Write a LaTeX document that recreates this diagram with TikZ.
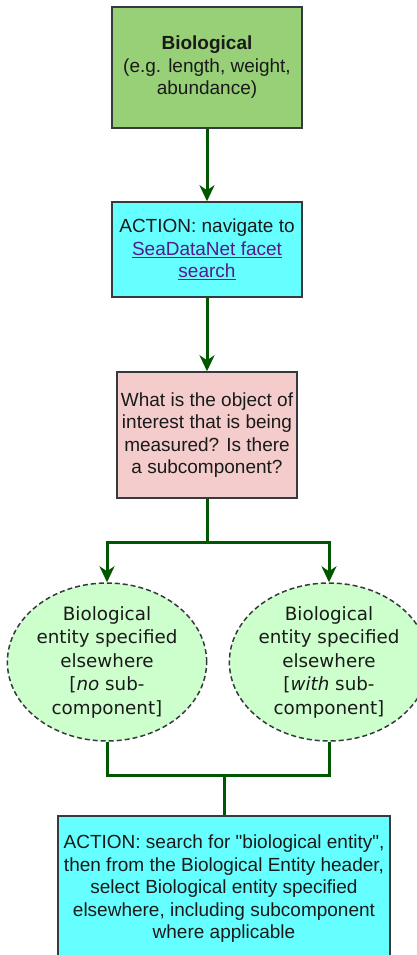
\documentclass[tikz,border=0pt]{standalone}
\usepackage{fontspec}
\setmainfont{Liberation Sans}
\newfontfamily\ellfont{DejaVu Sans}
\newfontfamily\rawfont{Liberation Sans}[Ligatures=ResetAll]
\usetikzlibrary{shapes.geometric,arrows.meta}

\definecolor{bioGreen}{HTML}{97D077}
\definecolor{actCyan}{HTML}{66FFFF}
\definecolor{askPink}{HTML}{F4CCCC}
\definecolor{entGreen}{HTML}{CCFFCC}
\definecolor{edge}{HTML}{36393D}
\definecolor{flow}{HTML}{005700}
\definecolor{ink}{HTML}{1A1A1A}
\definecolor{linkPurple}{HTML}{551A8B}

\tikzset{
  box/.style={draw=edge, line width=1.5pt, rectangle, align=center,
    text=ink, inner sep=0pt,
    font=\fontsize{19}{22.5}\selectfont},
  entity/.style={draw=edge, line width=1.5pt, ellipse, fill=entGreen,
    dash pattern=on 5pt off 3pt, align=center, text=ink, inner sep=0pt,
    font=\ellfont\fontsize{18.3}{23.5}\selectfont},
  conn/.style={draw=flow, line width=3pt},
  flowarrow/.style={conn, -{Stealth[length=16pt, width=15pt, inset=5pt]}},
}

\newcommand{\weblink}[1]{\textcolor{linkPurple}{\underline{#1}}}
% straight ASCII double quote
\newcommand{\sq}{{\rawfont"}}

\begin{document}
\begin{tikzpicture}[x=1pt, y=-1pt]
  \clip (0,0) rectangle (417,955);
  \useasboundingbox (0,0) rectangle (417,955);

  % process boxes
  \node[box, fill=bioGreen, minimum width=190pt, minimum height=121pt]
    (bio) at (207,67.5)
    {\textbf{Biological}\\(e.g. length, weight,\\abundance)};
  \node[box, fill=actCyan, minimum width=190pt, minimum height=95pt]
    (nav) at (207,249.5)
    {ACTION: navigate to\\\weblink{SeaDataNet facet}\\\weblink{search}};
  \node[box, fill=askPink, minimum width=180pt, minimum height=126pt]
    (ask) at (207,435)
    {What is the object of\\interest that is being\\measured? Is there\\a subcomponent?};

  % the two entity choices
  \node[entity, minimum width=194pt, minimum height=152pt] (noSub) at (107,662)
    {Biological\\entity specified\\elsewhere\\{[}\textit{no} sub-\\component{]}};
  \node[entity, minimum width=176pt, minimum height=152pt] (withSub) at (329,662)
    {Biological\\entity specified\\elsewhere\\{[}\textit{with} sub-\\component{]}};

  % final action
  \node[box, fill=actCyan, minimum width=332pt, minimum height=146pt]
    (search) at (224,889)
    {ACTION: search for \sq biological entity\sq,\\then from the Biological Entity header,\\select Biological entity specified\\elsewhere, including subcomponent\\where applicable};

  % junction points
  \coordinate (split) at (207,542);
  \coordinate (merge) at (224,775);

  % connectors
  \draw[flowarrow] (bio.south) -- (nav.north);
  \draw[flowarrow] (nav.south) -- (ask.north);
  \draw[conn] (ask.south) -- (split);
  \draw[flowarrow] (split) -| (noSub.north);
  \draw[flowarrow] (split) -| (withSub.north);
  \draw[conn] (noSub.south) |- (merge);
  \draw[conn] (withSub.south) |- (merge);
  \draw[conn] (merge) -- (search.north);
\end{tikzpicture}
\end{document}
